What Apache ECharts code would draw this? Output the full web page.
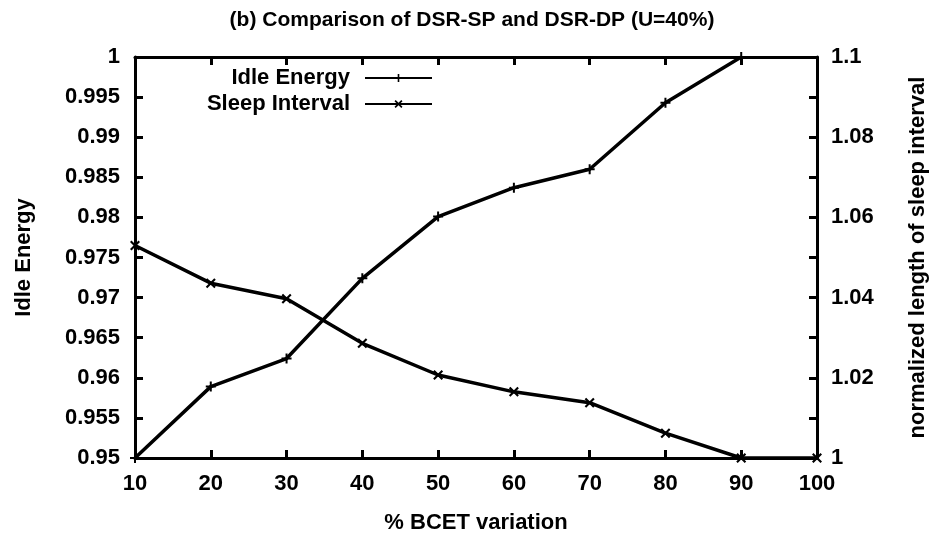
<!DOCTYPE html>
<html>
<head>
<meta charset="utf-8">
<script src="https://cdn.jsdelivr.net/npm/echarts@6/dist/echarts.min.js"></script>
<style>
html,body{margin:0;padding:0;background:#fff;}
#chart{width:944px;height:533px;}
</style>
</head>
<body>
<div id="chart"></div>
<script>
var titleText = '(b) Comparison of DSR-SP and DSR-DP (U=40%)';
var xName = '% BCET variation';
var leftName = 'Idle Energy';
var rightName = 'normalized length of sleep interval';
var seriesNames = ['Idle Energy', 'Sleep Interval'];
var xValues = [10, 20, 30, 40, 50, 60, 70, 80, 90, 100];
var idleEnergy = [0.950, 0.9589, 0.9624, 0.9724, 0.9801, 0.9837, 0.9860, 0.9943, 1.000, null];
var sleepInterval = [1.053, 1.0436, 1.0397, 1.0286, 1.0207, 1.0165, 1.0138, 1.0062, 1.000, 1.000];

var FONT = 'Liberation Sans';
var plusPath = 'path://M4,0 L6,0 L6,4 L10,4 L10,6 L6,6 L6,10 L4,10 L4,6 L0,6 L0,4 L4,4 Z';
var crossPath = 'path://M0,1.5 L1.5,0 L5,3.5 L8.5,0 L10,1.5 L6.5,5 L10,8.5 L8.5,10 L5,6.5 L1.5,10 L0,8.5 L3.5,5 Z';

function pairs(xs, ys) {
  var out = [];
  for (var i = 0; i < xs.length; i++) {
    if (ys[i] !== null) out.push([xs[i], ys[i]]);
  }
  return out;
}

var labelStyle = {color: '#000', fontFamily: FONT, fontWeight: 'bold', fontSize: 22};
var axisLineStyle = {show: true, lineStyle: {color: '#000', width: 3}};
var tickStyle = {show: true, inside: true, length: 8, lineStyle: {color: '#000', width: 3}};
var nameStyle = {color: '#000', fontFamily: FONT, fontWeight: 'bold', fontSize: 22};

var chart = echarts.init(document.getElementById('chart'), null, {renderer: 'canvas'});
chart.setOption({
  animation: false,
  backgroundColor: '#fff',
  title: {
    text: titleText,
    left: 'center',
    top: 5,
    textStyle: {color: '#000', fontFamily: FONT, fontWeight: 'bold', fontSize: 21}
  },
  legend: [
    {
      data: [seriesNames[0]],
      right: 506, top: 62,
      align: 'right',
      itemWidth: 67, itemHeight: 10,
      textStyle: {color: '#000', fontFamily: FONT, fontWeight: 'bold', fontSize: 22, padding: [0, 10, 0, 0]}
    },
    {
      data: [seriesNames[1]],
      right: 506, top: 88,
      align: 'right',
      itemWidth: 67, itemHeight: 10,
      textStyle: {color: '#000', fontFamily: FONT, fontWeight: 'bold', fontSize: 22, padding: [0, 10, 0, 0]}
    }
  ],
  grid: {left: 135, right: 127, top: 57, bottom: 75, containLabel: false, outerBoundsMode: 'none'},
  xAxis: [
    {
      type: 'value', min: 10, max: 100, interval: 10,
      name: xName, nameLocation: 'middle', nameGap: 54,
      nameTextStyle: nameStyle,
      axisLine: axisLineStyle, axisTick: tickStyle,
      axisLabel: Object.assign({margin: 15}, labelStyle),
      splitLine: {show: false}
    },
    {
      type: 'value', min: 10, max: 100, interval: 10, position: 'top',
      axisLine: axisLineStyle, axisTick: tickStyle,
      axisLabel: {show: false}, splitLine: {show: false}
    }
  ],
  yAxis: [
    {
      type: 'value', min: 0.95, max: 1, interval: 0.005,
      name: leftName, nameLocation: 'middle', nameGap: 100, nameRotate: 90,
      nameTextStyle: nameStyle,
      axisLine: axisLineStyle, axisTick: tickStyle,
      axisLabel: Object.assign({margin: 15, formatter: function (v) { return String(+v.toFixed(3)); }}, labelStyle),
      splitLine: {show: false}
    },
    {
      type: 'value', min: 1, max: 1.1, interval: 0.02, position: 'right',
      name: rightName, nameLocation: 'middle', nameGap: 90, nameRotate: 90,
      nameTextStyle: nameStyle,
      axisLine: axisLineStyle, axisTick: tickStyle,
      minorTick: {show: true, splitNumber: 2, length: 8, lineStyle: {color: '#000', width: 3}},
      axisLabel: Object.assign({margin: 14, formatter: function (v) { return String(+v.toFixed(2)); }}, labelStyle),
      splitLine: {show: false}
    }
  ],
  series: [
    {
      name: seriesNames[0], type: 'line', xAxisIndex: 0, yAxisIndex: 0,
      data: pairs(xValues, idleEnergy),
      symbol: plusPath, symbolSize: 10, showSymbol: true,
      itemStyle: {color: '#000'},
      lineStyle: {color: '#000', width: 3.5},
      clip: true
    },
    {
      name: seriesNames[1], type: 'line', xAxisIndex: 0, yAxisIndex: 1,
      data: pairs(xValues, sleepInterval),
      symbol: crossPath, symbolSize: 10, showSymbol: true,
      itemStyle: {color: '#000'},
      lineStyle: {color: '#000', width: 3.5},
      clip: true
    }
  ]
});
</script>
</body>
</html>
